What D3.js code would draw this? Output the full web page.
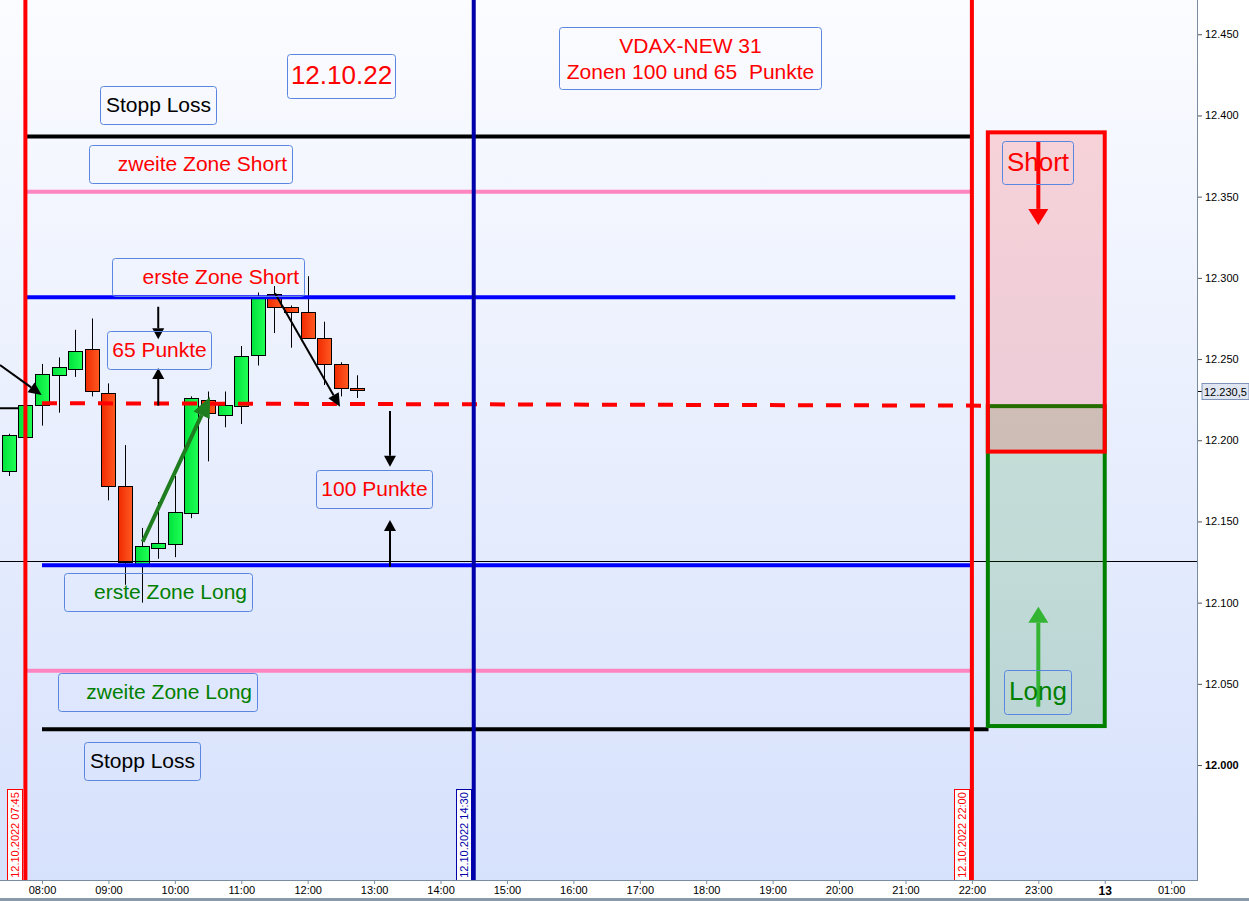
<!DOCTYPE html>
<html>
<head>
<meta charset="utf-8">
<script src="https://cdn.jsdelivr.net/npm/d3@7"></script>
<style>
body { margin: 0; background: #fff; }
text { font-family: "Liberation Sans", Arial, sans-serif; }
</style>
</head>
<body>
<svg id="chart" width="1249" height="901"></svg>
<script>
// 15 minute candles of 12.10.2022, time as hour of day
var candleTimes = [7.5, 7.75, 8, 8.25, 8.5, 8.75, 9, 9.25, 9.5, 9.75, 10, 10.25,
                   10.5, 10.75, 11, 11.25, 11.5, 11.75, 12, 12.25, 12.5, 12.75];
var opens  = [12181, 12202, 12222, 12240, 12244, 12256, 12229, 12172, 12124, 12134, 12136, 12155,
              12225, 12216, 12221, 12252, 12290, 12282, 12279, 12263, 12247, 12232];
var highs  = [12204, 12223, 12247, 12251, 12268, 12275, 12235, 12197, 12146, 12162, 12178, 12227,
              12230, 12230, 12258, 12291, 12295, 12283, 12301, 12273, 12248, 12240];
var lows   = [12178, 12200, 12209, 12217, 12239, 12227, 12163, 12111, 12100, 12127, 12128, 12152,
              12187, 12208, 12210, 12246, 12266, 12257, 12263, 12234, 12227, 12226];
var closes = [12203, 12222, 12241, 12245, 12255, 12230, 12172, 12125, 12135, 12137, 12156, 12226,
              12217, 12222, 12252, 12288, 12282, 12279, 12263, 12247, 12232, 12230.5];

// horizontal zone lines: price, start hour, end hour
var levelPrices = [12387, 12353, 12288, 12123, 12058, 12022];
var levelStarts = [7.75, 7.75, 7.75, 8, 7.75, 8];
var levelEnds   = [22, 22, 21.75, 22, 22, 22.25];
var levelKinds  = ["stop", "zone2", "zone1", "zone1", "zone2", "stop"];

// vertical time markers
var markerTimes  = [7.75, 14.5, 22];
var markerLabels = ["12.10.2022 07:45", "12.10.2022 14:30", "12.10.2022 22:00"];

// trade boxes: [top price, bottom price]
var shortZone = [12389.6, 12193];
var longZone  = [12221, 12024];
var boxHours  = [22.24, 24.0];

var entryLine = [12222.8, 12221.3];   // dashed red line, start/end price
var crossPrice = 12125.6;
var lastPrice = 12230.5;

var xTickHours = d3.range(8, 26);
var yTickValues = d3.range(12000, 12451, 50);

var annotationTexts = ["Stopp Loss", "12.10.22", "zweite Zone Short", "erste Zone Short", "65 Punkte",
                       "100 Punkte", "erste Zone Long", "zweite Zone Long", "Stopp Loss", "Short", "Long"];

var W = 1249, H = 901, plotW = 1197, plotH = 880;
var svg = d3.select("#chart");

var x = d3.scaleLinear().domain([7.3677, 25.389]).range([0, plotW]);
var y = d3.scaleLinear().domain([11929.2, 12471.1]).range([plotH, 0]);

var de = d3.formatLocale({decimal: ",", thousands: ".", grouping: [3], currency: ["", "€"]});
var fmtPrice = de.format(",");

//background
var defs = svg.append("defs");
var bg = defs.append("linearGradient").attr("id", "bg").attr("x1", 0).attr("y1", 0).attr("x2", 0).attr("y2", 1);
bg.append("stop").attr("offset", "0%").attr("stop-color", "#fbfcff");
bg.append("stop").attr("offset", "100%").attr("stop-color", "#d6e1fc");
var gUp = defs.append("linearGradient").attr("id", "up");
gUp.append("stop").attr("offset", "0%").attr("stop-color", "#00e23c");
gUp.append("stop").attr("offset", "100%").attr("stop-color", "#20ff55");
var gDn = defs.append("linearGradient").attr("id", "dn");
gDn.append("stop").attr("offset", "0%").attr("stop-color", "#f02a00");
gDn.append("stop").attr("offset", "100%").attr("stop-color", "#ff5a22");
defs.append("clipPath").attr("id", "clip").append("rect").attr("width", plotW).attr("height", plotH);

svg.append("rect").attr("width", W).attr("height", H).attr("fill", "#fff");
svg.append("rect").attr("width", plotW).attr("height", plotH).attr("fill", "url(#bg)");

var plot = svg.append("g").attr("clip-path", "url(#clip)");

//Draw candles
var candles = candleTimes.map(function(t, i) {
    return {t: t, o: opens[i], h: highs[i], l: lows[i], c: closes[i]};
});
var bw = 14;
var cg = plot.append("g").selectAll("g").data(candles).enter().append("g");
cg.append("line")
    .attr("x1", function(d) { return Math.round(x(d.t)) + 0.5; })
    .attr("x2", function(d) { return Math.round(x(d.t)) + 0.5; })
    .attr("y1", function(d) { return y(d.h); })
    .attr("y2", function(d) { return y(d.l); })
    .attr("stroke", "#000").attr("stroke-width", 1);
cg.append("rect")
    .attr("x", function(d) { return Math.round(x(d.t)) + 0.5 - bw / 2; })
    .attr("y", function(d) { return Math.round(y(Math.max(d.o, d.c))) + 0.5; })
    .attr("width", bw)
    .attr("height", function(d) { return Math.max(2, Math.round(Math.abs(y(d.o) - y(d.c)))); })
    .attr("fill", function(d) { return d.c >= d.o ? "url(#up)" : "url(#dn)"; })
    .attr("stroke", "#000").attr("stroke-width", 1);

//Draw horizontal lines
var levelColor = {stop: "#000", zone2: "#ff85c0", zone1: "#0000ff"};
plot.append("g").selectAll("line").data(levelPrices).enter().append("line")
    .attr("x1", function(d, i) { return x(levelStarts[i]); })
    .attr("x2", function(d, i) { return x(levelEnds[i]); })
    .attr("y1", function(d) { return y(d); })
    .attr("y2", function(d) { return y(d); })
    .attr("stroke", function(d, i) { return levelColor[levelKinds[i]]; })
    .attr("stroke-width", 4);

plot.append("line")
    .attr("x1", 0).attr("x2", plotW)
    .attr("y1", Math.round(y(crossPrice)) + 0.5).attr("y2", Math.round(y(crossPrice)) + 0.5)
    .attr("stroke", "#000").attr("stroke-width", 1);

plot.append("line")
    .attr("x1", x(8)).attr("x2", x(boxHours[0]))
    .attr("y1", y(entryLine[0])).attr("y2", y(entryLine[1]))
    .attr("stroke", "#ff0000").attr("stroke-width", 4)
    .attr("stroke-dasharray", "15,13");

// short black piece at the left edge
plot.append("line")
    .attr("x1", 0).attr("x2", x(7.64))
    .attr("y1", y(12219.7)).attr("y2", y(12219.7))
    .attr("stroke", "#000").attr("stroke-width", 2);

//Trade boxes
plot.append("rect")
    .attr("x", x(boxHours[0])).attr("width", x(boxHours[1]) - x(boxHours[0]))
    .attr("y", y(longZone[0])).attr("height", y(longZone[1]) - y(longZone[0]))
    .attr("fill", "rgba(0,128,0,0.15)").attr("stroke", "#008000").attr("stroke-width", 4);
plot.append("rect")
    .attr("x", x(boxHours[0])).attr("width", x(boxHours[1]) - x(boxHours[0]))
    .attr("y", y(shortZone[0])).attr("height", y(shortZone[1]) - y(shortZone[0]))
    .attr("fill", "rgba(255,0,0,0.15)").attr("stroke", "#ff0000").attr("stroke-width", 4);

//Vertical markers
var markerColor = ["#ff0000", "#0000aa", "#ff0000"];
plot.append("g").selectAll("line").data(markerTimes).enter().append("line")
    .attr("x1", function(d) { return x(d); })
    .attr("x2", function(d) { return x(d); })
    .attr("y1", 0).attr("y2", plotH)
    .attr("stroke", function(d, i) { return markerColor[i]; })
    .attr("stroke-width", 4);

var mg = plot.append("g").selectAll("g").data(markerTimes).enter().append("g")
    .attr("transform", function(d) { return "translate(" + (Math.round(x(d)) - 2) + "," + plotH + ")"; });
mg.append("rect")
    .attr("x", -15.5).attr("y", -90.5).attr("width", 15).attr("height", 92)
    .attr("fill", "#fff")
    .attr("stroke", function(d, i) { return markerColor[i]; }).attr("stroke-width", 1);
mg.append("text")
    .attr("transform", "translate(-4,-45) rotate(-90)")
    .attr("text-anchor", "middle")
    .attr("font-size", "11px")
    .attr("fill", function(d, i) { return markerColor[i]; })
    .text(function(d, i) { return markerLabels[i]; });

//Arrows
function arrow(x1, y1, x2, y2, color, width, headLen, headW) {
    var a = Math.atan2(y2 - y1, x2 - x1);
    var bx = x2 - headLen * Math.cos(a), by = y2 - headLen * Math.sin(a);
    var px = -Math.sin(a) * headW / 2, py = Math.cos(a) * headW / 2;
    plot.append("line")
        .attr("x1", x1).attr("y1", y1).attr("x2", bx).attr("y2", by)
        .attr("stroke", color).attr("stroke-width", width);
    plot.append("path")
        .attr("d", "M" + x2 + "," + y2 + "L" + (bx + px) + "," + (by + py) + "L" + (bx - px) + "," + (by - py) + "Z")
        .attr("fill", color);
}
arrow(x(7.368), y(12246.3), x(7.995), y(12227.9), "#000", 2, 13, 12);
arrow(x(9.75), y(12282.2), x(9.75), y(12262.2), "#000", 2, 11, 12);
arrow(x(9.75), y(12221.3), x(9.75), y(12244.5), "#000", 2, 11, 12);
arrow(x(13.239), y(12218.0), x(13.239), y(12183.7), "#000", 2, 11, 12);
arrow(x(13.239), y(12122.1), x(13.239), y(12150.9), "#000", 2, 11, 12);
arrow(x(9.516), y(12137.5), x(10.529), y(12226.6), "#1e7d1e", 4, 20, 18);
arrow(x(11.508), y(12290.5), x(12.487), y(12220.7), "#000", 2, 13, 12);
arrow(x(23), y(12383.7), x(23), y(12332.6), "#ff0000", 4, 16, 20);
arrow(x(23), y(12035.9), x(23), y(12097.5), "#33b533", 4, 16, 20);

//Text boxes
var boxes = [
    {t: 8.878, p: 12418.0, w: 116, h: 38, color: "#000", align: "middle", fs: 21},
    {t: 11.693, p: 12437.7, w: 108, h: 44, color: "#ff0000", align: "middle", fs: 26},
    {t: 8.712, p: 12381.6, w: 203, h: 38, color: "#ff0000", align: "end", fs: 21},
    {t: 9.058, p: 12312.0, w: 192, h: 38, color: "#ff0000", align: "end", fs: 21},
    {t: 8.979, p: 12267.3, w: 104, h: 38, color: "#ff0000", align: "middle", fs: 21},
    {t: 12.125, p: 12181.7, w: 116, h: 38, color: "#ff0000", align: "middle", fs: 21},
    {t: 8.336, p: 12118.1, w: 188, h: 38, color: "#008000", align: "end", fs: 21},
    {t: 8.245, p: 12056.5, w: 199, h: 38, color: "#008000", align: "end", fs: 21},
    {t: 8.637, p: 12014.0, w: 116, h: 38, color: "#000", align: "middle", fs: 21},
    {t: 22.458, p: 12384.5, w: 71, h: 43, color: "#ff0000", align: "middle", fs: 26},
    {t: 22.488, p: 12058.3, w: 67, h: 44, color: "#008000", align: "middle", fs: 26}
];
boxes.forEach(function(b, i) { b.text = annotationTexts[i]; });

var bg2 = svg.append("g").selectAll("g").data(boxes).enter().append("g")
    .attr("transform", function(d) { return "translate(" + (Math.round(x(d.t)) + 0.5) + "," + (Math.round(y(d.p)) + 0.5) + ")"; });
bg2.append("rect")
    .attr("width", function(d) { return d.w; })
    .attr("height", function(d) { return d.h; })
    .attr("rx", 3)
    .attr("fill", "none").attr("stroke", "#5a86e0").attr("stroke-width", 1);
bg2.append("text")
    .attr("x", function(d) { return d.align == "end" ? d.w - 5.5 : d.w / 2; })
    .attr("y", function(d) { return d.fs > 22 ? 29 : 25; })
    .attr("text-anchor", function(d) { return d.align; })
    .attr("font-size", function(d) { return d.fs + "px"; })
    .attr("fill", function(d) { return d.color; })
    .text(function(d) { return d.text; });

// title box
var tg = svg.append("g").attr("transform", "translate(" + (Math.round(x(15.788)) + 0.5) + "," + (Math.round(y(12454.7)) + 0.5) + ")");
tg.append("rect").attr("width", 262).attr("height", 62).attr("rx", 3)
    .attr("fill", "none").attr("stroke", "#5a86e0").attr("stroke-width", 1);
tg.append("text").attr("x", 131).attr("y", 25).attr("text-anchor", "middle")
    .attr("font-size", "21px").attr("fill", "#ff0000").text("VDAX-NEW 31");
tg.append("text").attr("x", 131).attr("y", 51).attr("text-anchor", "middle")
    .attr("font-size", "21px").attr("fill", "#ff0000").style("white-space", "pre")
    .text("Zonen 100 und 65  Punkte");

//Axes
svg.append("line").attr("x1", plotW + 0.5).attr("x2", plotW + 0.5).attr("y1", 0).attr("y2", plotH)
    .attr("stroke", "#7a8da0").attr("stroke-width", 1);
svg.append("line").attr("x1", 0).attr("x2", plotW + 1).attr("y1", plotH + 0.5).attr("y2", plotH + 0.5)
    .attr("stroke", "#7a8da0").attr("stroke-width", 1);
svg.append("rect").attr("x", 0).attr("y", 898).attr("width", W).attr("height", 3).attr("fill", "#8a9aaa");

var xAxis = svg.append("g").attr("transform", "translate(0," + (plotH + 1) + ")")
    .call(d3.axisBottom(x).tickValues(xTickHours).tickSize(3).tickPadding(2)
        .tickFormat(function(h) { return h == 24 ? "13" : d3.format("02")(h % 24) + ":00"; }));
xAxis.select(".domain").remove();
xAxis.selectAll("line").attr("stroke", "#7a8da0");
xAxis.selectAll("text").attr("font-family", "Liberation Sans, Arial, sans-serif")
    .attr("font-size", function(h) { return h == 24 ? "12px" : "11px"; })
    .attr("font-weight", function(h) { return h == 24 ? "bold" : "normal"; })
    .attr("fill", "#000");

var yAxis = svg.append("g").attr("transform", "translate(" + (plotW + 1) + ",0)")
    .call(d3.axisRight(y).tickValues(yTickValues).tickSize(4).tickPadding(3).tickFormat(fmtPrice));
yAxis.select(".domain").remove();
yAxis.selectAll("line").attr("stroke", "#555");
yAxis.selectAll("text").attr("font-family", "Liberation Sans, Arial, sans-serif")
    .attr("font-size", "11px")
    .attr("font-weight", function(v) { return v == 12000 ? "bold" : "normal"; })
    .attr("fill", "#000");

// last price tag
var lp = svg.append("g").attr("transform", "translate(" + (plotW + 1) + "," + (Math.round(y(lastPrice)) + 0.5) + ")");
lp.append("line").attr("x1", 0).attr("x2", 4).attr("stroke", "#000");
lp.append("rect").attr("x", 4).attr("y", -8).attr("width", 47).attr("height", 16)
    .attr("fill", "#dfe6f2").attr("stroke", "#7f93b8");
lp.append("text").attr("x", 6).attr("y", 4).attr("font-size", "11px").attr("fill", "#000")
    .text(de.format(",.1f")(lastPrice));
</script>
</body>
</html>
